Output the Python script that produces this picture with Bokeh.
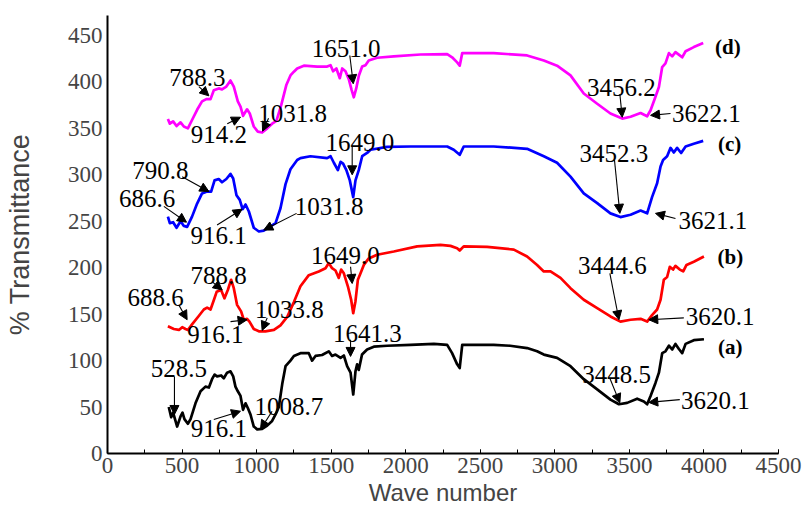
from bokeh.plotting import figure
from bokeh.models import Range1d, SingleIntervalTicker, FixedTicker, Arrow, NormalHead, ColumnDataSource
from bokeh.core.properties import value
from bokeh.embed import file_html
from bokeh.resources import INLINE

SERIF = "'Liberation Serif', 'Times New Roman', Times, serif"
SANS = "'Liberation Sans', Arial, Helvetica, sans-serif"

# FTIR spectra, wavenumber (cm-1) vs % transmittance (offset traces)
wn_a = [411, 427, 440, 456, 467, 490, 503, 516, 539, 557, 590, 624, 657, 680, 701, 718, 735, 762, 780, 802,
        825, 843, 858, 874, 892, 909, 926, 941, 959, 981, 1004, 1037, 1071, 1104, 1127, 1149, 1172, 1194, 1227,
        1250, 1294, 1350, 1372, 1395, 1439, 1484, 1506, 1529, 1563, 1585, 1607, 1630, 1648, 1663, 1674, 1685,
        1707, 1741, 1786, 1875, 2032, 2189, 2278, 2311, 2345, 2362, 2379, 2590, 2700, 2814, 2881, 2926, 3015,
        3105, 3194, 3284, 3373, 3430, 3485, 3552, 3597, 3619, 3642, 3675, 3698, 3720, 3742, 3765, 3787, 3809,
        3832, 3854, 3877, 3932, 4000]
tr_a = [50, 39, 44, 35, 29, 40, 44, 37, 32, 37, 54, 67, 72, 71, 80, 85, 83, 84, 81, 87,
        88.5, 83, 72, 67, 62, 47, 54, 49, 42, 29, 26, 26.5, 30, 35, 42, 50, 75, 94, 100,
        105, 108, 108, 100, 105, 106, 110, 105, 106.5, 103, 105.5, 94, 87, 63.5, 88.5, 96, 90,
        106.5, 112, 115, 116, 117, 118, 117, 108, 96, 92, 117, 117, 116, 113.5, 110, 106.5, 103,
        94, 80, 69, 58, 53, 54.5, 59, 56, 53, 62, 76, 87, 108, 110, 116, 112, 118,
        112.5, 108, 118, 122, 123]

wn_b = [405, 445, 479, 501, 523, 539, 567, 612, 646, 668, 691, 714, 732, 762, 784, 807, 829, 847, 869, 896,
        914, 936, 952, 981, 1015, 1059, 1116, 1160, 1205, 1250, 1294, 1350, 1417, 1462, 1484, 1506, 1529, 1551,
        1567, 1585, 1612, 1634, 1648, 1663, 1679, 1697, 1719, 1752, 1808, 1920, 2077, 2233, 2300, 2345, 2362,
        2389, 2546, 2725, 2814, 2881, 2926, 2971, 3038, 3105, 3194, 3284, 3373, 3440, 3508, 3575, 3619, 3652,
        3686, 3709, 3731, 3753, 3771, 3793, 3809, 3838, 3861, 3883, 3932, 4000]
tr_b = [137, 134, 133, 136, 134, 133, 139, 148, 155, 157, 155, 165.5, 174, 176, 167, 176, 187, 178, 160, 153,
        144, 145, 142, 134, 131.5, 131.5, 133, 138, 147, 163, 180, 192, 196, 199.5, 205, 199.5, 197, 189,
        198, 194, 180, 165.5, 151, 164, 187, 194, 203, 210, 214, 217.5, 223, 224.5, 223.5, 221, 218.5,
        223, 222.5, 219.5, 212, 203, 196, 196, 189, 178, 165.5, 156.5, 147.5, 142, 144, 145, 142, 149,
        155, 165.5, 187, 190, 201, 198, 202, 198, 196, 203, 206.5, 212]

wn_c = [405, 418, 440, 463, 490, 512, 534, 567, 601, 634, 668, 695, 718, 746, 768, 797, 825, 843, 865, 887,
        906, 926, 948, 981, 1015, 1048, 1093, 1127, 1160, 1194, 1227, 1272, 1294, 1361, 1473, 1496, 1518, 1545,
        1563, 1580, 1602, 1625, 1648, 1663, 1685, 1708, 1741, 1764, 1875, 2032, 2278, 2322, 2362, 2389, 2590,
        2814, 2926, 3015, 3105, 3194, 3284, 3373, 3440, 3508, 3575, 3619, 3652, 3686, 3709, 3726, 3753, 3776,
        3798, 3820, 3847, 3877, 3932, 3995]
tr_c = [255, 248, 249, 243, 250, 245, 244, 255, 269, 280, 282, 282, 294, 295.5, 292, 295.5, 301, 296, 278, 273,
        263, 268, 260.5, 243, 239, 240, 244.5, 248, 264, 290, 306, 316, 318, 320, 318, 320, 313, 305,
        314, 312, 305, 294, 276, 294, 305, 320, 323.5, 327, 330, 330.5, 330.5, 327, 321.5, 330.5, 330.5,
        328, 320, 313, 298, 280, 269.5, 258.5, 254.5, 257, 261.5, 258.5, 276, 291, 309, 316, 320, 329,
        324, 329, 323.5, 330.5, 333.5, 336.5]

wn_d = [405, 418, 440, 463, 490, 512, 539, 567, 601, 634, 663, 691, 713, 746, 768, 797, 825, 847, 874, 892,
        909, 936, 954, 981, 1008, 1037, 1071, 1104, 1133, 1165, 1200, 1227, 1250, 1272, 1317, 1406, 1473, 1496,
        1513, 1535, 1558, 1574, 1596, 1619, 1637, 1652, 1668, 1686, 1708, 1730, 1752, 1808, 1920, 2099, 2278,
        2311, 2345, 2362, 2379, 2590, 2814, 2926, 3015, 3105, 3194, 3284, 3373, 3452, 3508, 3575, 3619, 3642,
        3675, 3698, 3720, 3742, 3765, 3787, 3809, 3838, 3854, 3877, 3932, 3995]
tr_d = [360, 355, 357.5, 352.5, 356.5, 352, 350, 359, 370, 379, 381.5, 381.5, 391, 393, 392, 395, 401.5, 395, 379, 373.5,
        363.5, 370.5, 366, 352, 346.5, 345.5, 350, 355, 358, 375, 397, 407, 411, 414.5, 417.5, 416.5, 416.5, 418,
        411.5, 414.5, 404, 414.5, 411.5, 402.5, 391.5, 383.5, 393, 407, 416.5, 418, 423, 426, 427.5, 429.5, 430,
        426.5, 421, 417.5, 431, 431, 428.5, 423, 417.5, 407, 387.5, 376.5, 366, 360.5, 362.5, 366.5, 363, 369.5,
        384, 394.5, 416, 420, 431, 427.5, 432, 428.5, 426.5, 433, 437.5, 442]

# peak annotations: text, text position, arrow tail, arrow head
peak_text = ["788.3", "914.2", "1031.8", "1651.0", "3456.2", "3622.1",
             "790.8", "686.6", "916.1", "1031.8", "1649.0", "3452.3", "3621.1",
             "788.8", "688.6", "916.1", "1033.8", "1649.0", "3444.6", "3620.1",
             "528.5", "916.1", "1008.7", "1641.3", "3448.5", "3620.1"]
text_x = [602, 747, 1241, 1600, 3447, 4017,
          355, 265, 745, 1487, 1692, 3396, 4060,
          745, 322, 724, 1220, 1596, 3386, 4108,
          478, 747, 1216, 1742, 3414, 4076]
text_y = [405, 343, 366, 436, 394, 366,
          305, 274.5, 235, 266, 334.5, 323, 251,
          192, 168, 128, 155, 212.7, 202, 147.5,
          92, 26.5, 51, 129.6, 85, 57]
tail_x = [613, 803, 1080, 1625, 3436, 3776,
          501, 378, 735, 1268, 1641, 3400, 3809,
          701, 478, 825, 1071, 1630, 3369, 3865,
          449, 713, 1104, 1630, 3369, 3838]
tail_y = [395, 355, 361, 428.5, 387, 366,
          298, 266, 246, 258.5, 330, 316, 253,
          185, 160, 142, 146, 201, 194, 146,
          83, 36.5, 45.5, 122.5, 81, 58]
head_x = [680, 892, 1040, 1648, 3452, 3642,
          680, 530, 903, 1048, 1641, 3436, 3675,
          769, 534, 936, 1037, 1641, 3430, 3630,
          449, 892, 1026, 1630, 3436, 3630]
head_y = [385, 362, 347, 398, 362, 364,
          282, 249, 263, 240.5, 300, 258.5, 258.5,
          176, 144, 144, 132.5, 183, 144, 144,
          42, 45.5, 26, 104.5, 54.5, 55]

trace_names = ["(a)", "(b)", "(c)", "(d)"]
name_x = [4177, 4177, 4172, 4161]
name_y = [115, 212, 333.5, 437.5]

p = figure(width=812, height=508, output_backend="svg", toolbar_location=None,
           x_range=Range1d(0, 4500), y_range=Range1d(0, 471.5),
           min_border_left=107, min_border_right=34, min_border_top=15, min_border_bottom=54)
p.outline_line_color = None
p.grid.grid_line_color = None
p.background_fill_color = "white"
p.border_fill_color = "white"

for xs, ys, col in [(wn_a, tr_a, "black"), (wn_b, tr_b, "#ff0000"),
                    (wn_c, tr_c, "#0000ff"), (wn_d, tr_d, "#ff00ff")]:
    p.line(xs, ys, line_color=col, line_width=2.7, line_join="round")

for i in range(len(peak_text)):
    p.add_layout(Arrow(end=NormalHead(size=9, fill_color="black", line_color="black", line_width=1),
                       x_start=tail_x[i], y_start=tail_y[i], x_end=head_x[i], y_end=head_y[i],
                       line_color="black", line_width=1.1))

src = ColumnDataSource(dict(x=text_x, y=text_y, t=peak_text))
p.text(x="x", y="y", text="t", source=src, text_align="center", text_baseline="middle",
       text_font=value(SERIF), text_font_size="25px", text_color="black")

src2 = ColumnDataSource(dict(x=name_x, y=name_y, t=trace_names))
p.text(x="x", y="y", text="t", source=src2, text_align="center", text_baseline="middle",
       text_font=value(SERIF), text_font_size="21px", text_font_style="bold",
       text_color="black")

# axes
xa = p.xaxis[0]
xa.ticker = SingleIntervalTicker(interval=500, num_minor_ticks=2)
xa.axis_label = "Wave number"
xa.axis_label_text_font = SANS
xa.axis_label_text_font_size = "24px"
xa.axis_label_text_font_style = "normal"
xa.axis_label_standoff = 3
xa.major_label_text_font = SERIF
xa.major_label_text_font_size = "23px"
xa.major_label_standoff = 4
xa.major_tick_in = 4
xa.major_tick_out = 0
xa.minor_tick_in = 4
xa.minor_tick_out = 0
xa.axis_line_width = 2
xa.major_tick_line_width = 1
xa.minor_tick_line_width = 1

ya = p.yaxis[0]
ya.ticker = FixedTicker(ticks=[0, 50, 100, 150, 200, 250, 300, 350, 400, 450])
ya.axis_label = "% Transmittance"
ya.axis_label_text_font = SANS
ya.axis_label_text_font_size = "27px"
ya.axis_label_text_font_style = "normal"
ya.axis_label_standoff = 30
ya.major_label_text_font = SERIF
ya.major_label_text_font_size = "23px"
ya.major_label_standoff = 5
ya.major_tick_in = 0
ya.major_tick_out = 0
ya.minor_tick_line_color = None
ya.axis_line_width = 2

open("out.html", "w").write(file_html(p, INLINE))
